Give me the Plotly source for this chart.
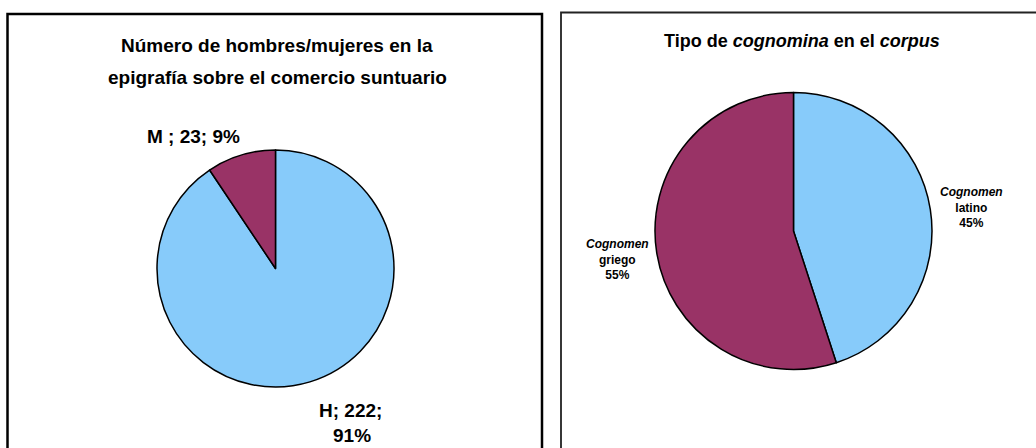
import plotly.graph_objects as go

# Left chart: men / women in the inscriptions
sex_labels = ["H", "M"]
sex_counts = [222, 23]

# Right chart: type of cognomina
cog_labels = ["latino", "griego"]
cog_pcts = [45, 55]

BLUE = "#87CBFA"
PLUM = "#993366"
W, H = 1036, 448


def px(x):
    return x / W


def py(y):
    return 1 - y / H


fig = go.Figure()

fig.add_trace(go.Pie(
    labels=sex_labels, values=sex_counts, sort=False, direction="clockwise",
    rotation=0, textinfo="none", hoverinfo="label+value+percent",
    marker=dict(colors=[BLUE, PLUM], line=dict(color="black", width=1.5)),
    domain=dict(x=[px(157), px(394)], y=[py(387), py(150)]),
    showlegend=False,
))

fig.add_trace(go.Pie(
    labels=cog_labels, values=cog_pcts, sort=False, direction="clockwise",
    rotation=0, textinfo="none", hoverinfo="label+percent",
    marker=dict(colors=[BLUE, PLUM], line=dict(color="black", width=1.5)),
    domain=dict(x=[px(655), px(932)], y=[py(370), py(92)]),
    showlegend=False,
))

total = sum(sex_counts)
pct = [round(v * 100 / total) for v in sex_counts]

ann = []


def add(text, x, y, size, yanchor="middle"):
    ann.append(dict(text=text, x=px(x), y=py(y), xref="paper", yref="paper",
                    showarrow=False, xanchor="center", yanchor=yanchor,
                    font=dict(family="Liberation Sans, Arial", size=size, color="black")))


# titles
add("<b>Número de hombres/mujeres en la</b>", 277, 46, 19)
add("<b>epigrafía sobre el comercio suntuario</b>", 277, 77, 19)
add("<b>Tipo de <i>cognomina</i> en el <i>corpus</i></b>", 802, 41, 18)

# left data labels
add(f"<b>{sex_labels[1]} ; {sex_counts[1]}; {pct[1]}%</b>", 193, 136, 19)
add(f"<b>{sex_labels[0]}; {sex_counts[0]};</b>", 350, 410, 19)
add(f"<b>{pct[0]}%</b>", 352, 448, 19, yanchor="bottom")

# right data labels
add(f"<b><i>Cognomen</i><br>{cog_labels[0]}<br>{cog_pcts[0]}%</b>", 971, 207, 12)
add(f"<b><i>Cognomen</i><br>{cog_labels[1]}<br>{cog_pcts[1]}%</b>", 617, 259, 12)

shapes = [
    dict(type="rect", xref="paper", yref="paper",
         x0=px(7.5), x1=px(542), y0=py(470), y1=py(14),
         line=dict(color="black", width=2.5)),
    dict(type="rect", xref="paper", yref="paper",
         x0=px(561), x1=px(1060), y0=py(470), y1=py(12.5),
         line=dict(color="#222", width=1.8)),
]

fig.update_layout(
    width=W, height=H, margin=dict(l=0, r=0, t=0, b=0),
    paper_bgcolor="white", plot_bgcolor="white",
    annotations=ann, shapes=shapes,
)

fig.write_html("out.html")
